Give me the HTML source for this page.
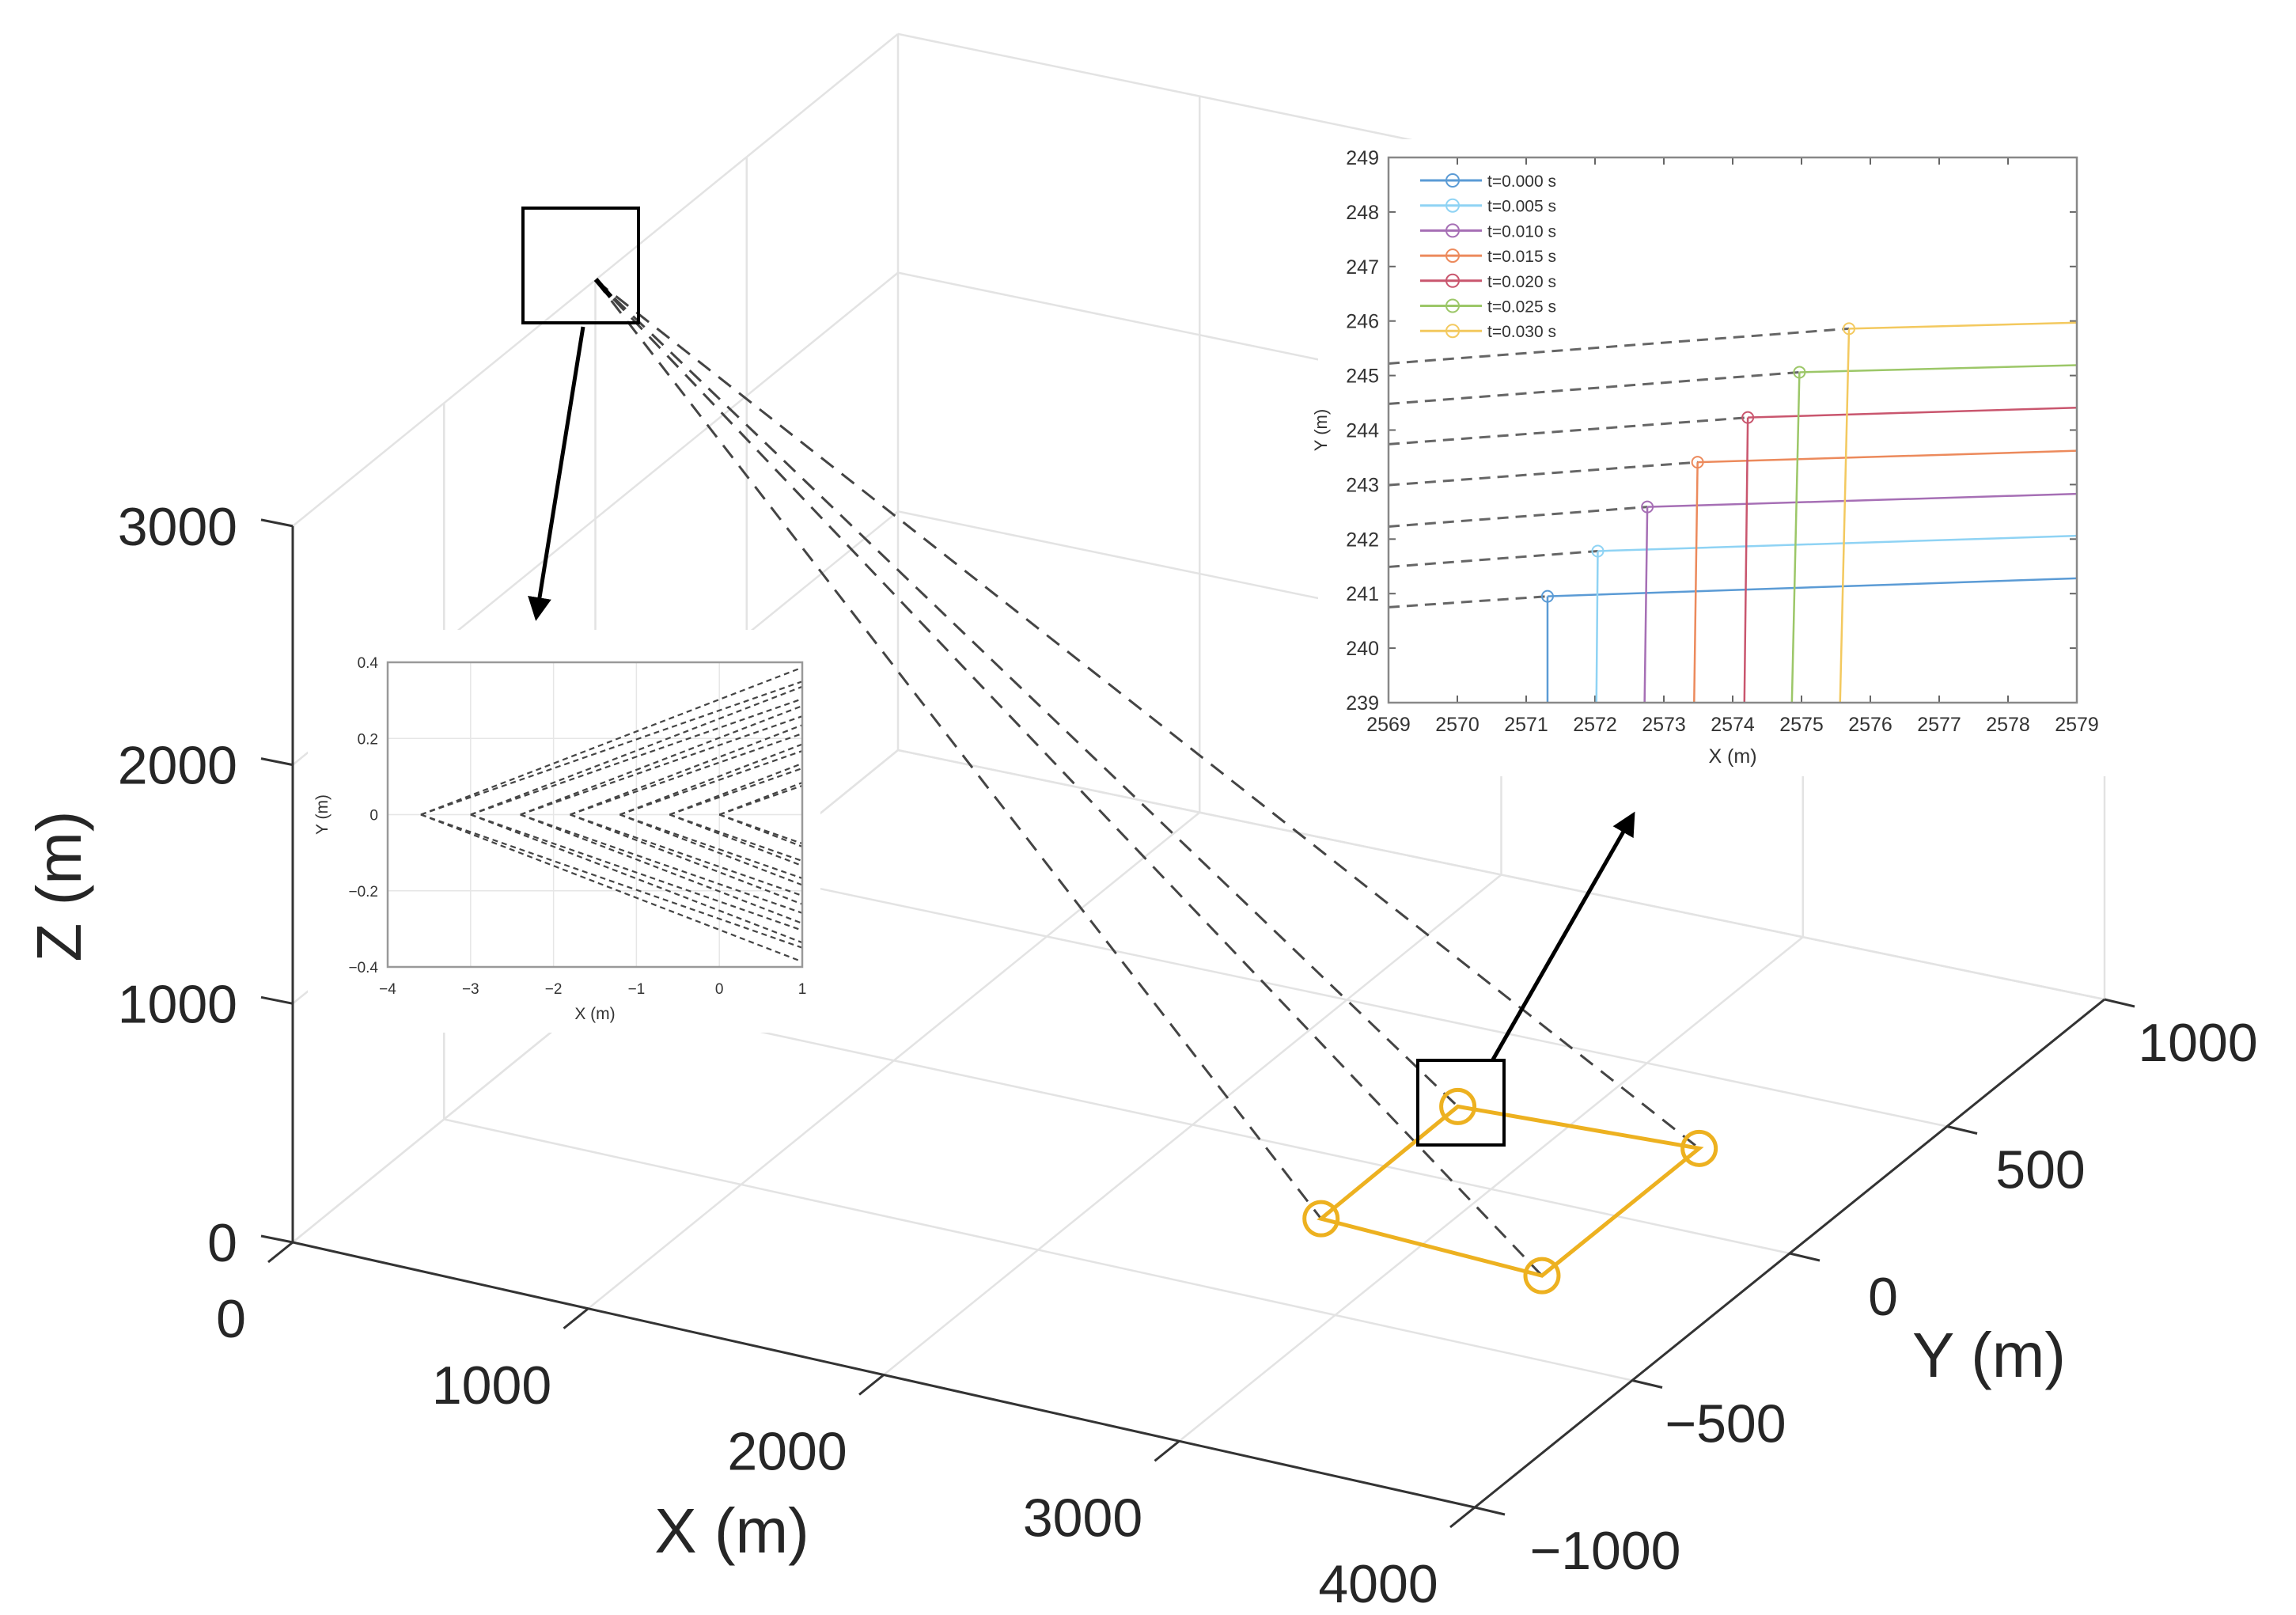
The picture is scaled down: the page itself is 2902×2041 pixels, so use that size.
<!DOCTYPE html>
<html><head><meta charset="utf-8"><style>
html,body{margin:0;padding:0;background:#fff}
svg{display:block;font-family:"Liberation Sans",sans-serif}
</style></head><body>
<svg id="chart" width="2902" height="2041" viewBox="0 0 2902 2041" xmlns="http://www.w3.org/2000/svg">
<g id="grid3d"></g>
<g id="axes3d"></g>
<g id="rays3d"></g>
<g id="square3d"></g>
<g id="insetL"></g>
<g id="insetR"></g>
<g id="annot"></g>
</svg>
<script>
// ---- data ----
const xTicks3d = [0, 1000, 2000, 3000, 4000];
const yTicks3d = [-1000, -500, 0, 500, 1000];
const zTicks3d = [0, 1000, 2000, 3000];
const sourcePoint = [0, 0, 3000];
const squareX = [2642, 3417, 3418, 2647];
const squareY = [237, 267, -236, -208];
const squareZ = [0, 0, 0, 0];

const insetRXTicks = [2569,2570,2571,2572,2573,2574,2575,2576,2577,2578,2579];
const insetRYTicks = [239,240,241,242,243,244,245,246,247,248,249];
const seriesLabels = ['t=0.000 s','t=0.005 s','t=0.010 s','t=0.015 s','t=0.020 s','t=0.025 s','t=0.030 s'];
const markerX = [2571.31, 2572.04, 2572.76, 2573.49, 2574.22, 2574.97, 2575.69];
const markerY = [240.95, 241.78, 242.59, 243.41, 244.23, 245.06, 245.86];
const leftEdgeY = [240.75, 241.49, 242.23, 242.99, 243.74, 244.48, 245.22];
const rightEdgeY = [241.28, 242.06, 242.83, 243.62, 244.41, 245.19, 245.97];
const bottomX = [2571.31, 2572.02, 2572.72, 2573.44, 2574.17, 2574.86, 2575.56];

const insetLXTicks = [-4,-3,-2,-1,0,1];
const insetLYTicks = [-0.4,-0.2,0,0.2,0.4];
const apexX = [-3.6, -3.0, -2.4, -1.8, -1.2, -0.6, 0.0];
const raySlopes = [0.084, 0.076];

// ---- helpers ----
const NS = 'http://www.w3.org/2000/svg';
function mk(parent, tag, attrs, txt){
  const e = document.createElementNS(NS, tag);
  for (const k in attrs) e.setAttribute(k, attrs[k]);
  if (txt !== undefined) e.textContent = txt;
  parent.appendChild(e); return e;
}
const fmt = v => (v < 0 ? '\u2212' + Math.abs(v) : '' + v);

// 3D projection (bilinear floor + vertical z)
const A=[370,1570], B=[1864,1905], C=[2660,1263], D=[1135,948], ZS=0.3017;
function proj(x,y,z){
  const u=x/4000, v=(y+1000)/2000;
  const px=A[0]+u*(B[0]-A[0])+v*(D[0]-A[0])+u*v*(C[0]-B[0]-D[0]+A[0]);
  const py=A[1]+u*(B[1]-A[1])+v*(D[1]-A[1])+u*v*(C[1]-B[1]-D[1]+A[1]);
  return [px, py - z*ZS];
}
function line3(g, p, q, attrs){
  const a=proj(...p), b=proj(...q);
  return mk(g,'line',Object.assign({x1:a[0],y1:a[1],x2:b[0],y2:b[1]},attrs));
}

// ---- grid ----
const gG = document.getElementById('grid3d');
const gs = {stroke:'#e3e3e3','stroke-width':2.5};
xTicks3d.forEach(x=>{ const l=line3(gG,[x,-1000,0],[x,1000,0],gs);
   
  if(x>0){ const w=line3(gG,[x,1000,0],[x,1000,3000],gs);
    }});
yTicks3d.forEach(y=>{ const l=line3(gG,[0,y,0],[4000,y,0],gs);
   
  if(y>-1000){ const w=line3(gG,[0,y,0],[0,y,3000],gs);
    }});
zTicks3d.forEach(z=>{ const l=line3(gG,[0,-1000,z],[0,1000,z],gs);
   
  const w=line3(gG,[0,1000,z],[4000,1000,z],gs);
    });

// ---- axes ----
const gA = document.getElementById('axes3d');
const as = {stroke:'#333','stroke-width':3};
let e;
e=line3(gA,[0,-1000,0],[0,-1000,3000],as);  
e=line3(gA,[0,-1000,0],[4000,-1000,0],as);  
e=line3(gA,[4000,-1000,0],[4000,1000,0],as);  
const lab = {fill:'#262626','font-size':68};
zTicks3d.forEach(z=>{ const p=proj(0,-1000,z);
  e=mk(gA,'line',{x1:p[0],y1:p[1],x2:p[0]-40,y2:p[1]-8,stroke:'#333','stroke-width':3});
   
  e=mk(gA,'text',Object.assign({x:p[0]-70,y:p[1]+24,'text-anchor':'end'},lab),fmt(z));
    });
xTicks3d.forEach(x=>{ const p=proj(x,-1000,0);
  e=mk(gA,'line',{x1:p[0],y1:p[1],x2:p[0]-31,y2:p[1]+25,stroke:'#333','stroke-width':3});
   
  e=mk(gA,'text',Object.assign({x:p[0]-(x===0?78:122),y:p[1]+120,'text-anchor':'middle'},lab),fmt(x));
    });
yTicks3d.forEach(y=>{ const p=proj(4000,y,0);
  e=mk(gA,'line',{x1:p[0],y1:p[1],x2:p[0]+38,y2:p[1]+9,stroke:'#333','stroke-width':3});
   
  e=mk(gA,'text',Object.assign({x:p[0]+(y===-1000?165:118),y:p[1]+78,'text-anchor':'middle'},lab),fmt(y));
    });
e=mk(gA,'text',{x:925,y:1962,'text-anchor':'middle',fill:'#262626','font-size':80},'X (m)');
 
e=mk(gA,'text',{x:2514,y:1740,'text-anchor':'middle',fill:'#262626','font-size':80},'Y (m)');
 
e=mk(gA,'text',{x:0,y:0,'text-anchor':'middle',fill:'#262626','font-size':80,transform:'translate(102,1120) rotate(-90)'},'Z (m)');
 

// ---- rays & square ----
const gR = document.getElementById('rays3d');
squareX.forEach((x,i)=>{ e=line3(gR,sourcePoint,[x,squareY[i],squareZ[i]],{stroke:'#444','stroke-width':3,'stroke-dasharray':'20 13'});
    });
const gS = document.getElementById('square3d');
const sqPts = squareX.map((x,i)=>proj(x,squareY[i],squareZ[i]));
e=mk(gS,'polygon',{points:sqPts.map(p=>p.join(',')).join(' '),fill:'none',stroke:'#EDB120','stroke-width':5});
 
sqPts.forEach(p=>{ e=mk(gS,'circle',{cx:p[0],cy:p[1],r:21,fill:'none',stroke:'#EDB120','stroke-width':5});
    });

// ---- left inset ----
const gL = document.getElementById('insetL');
const L={x0:490,x1:1014,y0:1222,y1:837};
const lx=v=>L.x0+(v+4)/5*(L.x1-L.x0), ly=v=>L.y0-(v+0.4)/0.8*(L.y0-L.y1);
e=mk(gL,'rect',{x:389,y:796,width:648,height:509,fill:'#fff'});  
insetLXTicks.forEach(v=>{ e=mk(gL,'line',{x1:lx(v),y1:L.y0,x2:lx(v),y2:L.y1,stroke:'#e6e6e6','stroke-width':1.5});  
  e=mk(gL,'text',{x:lx(v),y:L.y0+34,'text-anchor':'middle','font-size':19,fill:'#333'},fmt(v));   });
insetLYTicks.forEach(v=>{ e=mk(gL,'line',{x1:L.x0,y1:ly(v),x2:L.x1,y2:ly(v),stroke:'#e6e6e6','stroke-width':1.5});  
  e=mk(gL,'text',{x:L.x0-12,y:ly(v)+7,'text-anchor':'end','font-size':19,fill:'#333'},fmt(v));   });
apexX.forEach(a=>{ raySlopes.forEach(s=>{ [1,-1].forEach(sg=>{
  e=mk(gL,'line',{x1:lx(a),y1:ly(0),x2:lx(1),y2:ly(sg*s*(1-a)),stroke:'#444','stroke-width':2.2,'stroke-dasharray':'7 5'});
    }); }); });
e=mk(gL,'rect',{x:L.x0,y:L.y1,width:L.x1-L.x0,height:L.y0-L.y1,fill:'none',stroke:'#999','stroke-width':2.5});  
e=mk(gL,'text',{x:(L.x0+L.x1)/2,y:L.y0+66,'text-anchor':'middle','font-size':21,fill:'#333'},'X (m)');  
e=mk(gL,'text',{x:0,y:0,'text-anchor':'middle','font-size':21,fill:'#333',transform:`translate(414,${ly(0)}) rotate(-90)`},'Y (m)');  

// ---- right inset ----
const gI = document.getElementById('insetR');
const R={x0:1755,x1:2625,y0:888,y1:199};
const rx=v=>R.x0+(v-2569)/10*(R.x1-R.x0), ry=v=>R.y0-(v-239)/10*(R.y0-R.y1);
const colors=['#5b9bd5','#8fd3f4','#a66fb5','#ec8a5c','#c9566e','#9cc768','#f3c95f'];
e=mk(gI,'rect',{x:1666,y:176,width:999,height:805,fill:'#fff'});  
insetRXTicks.forEach(v=>{ e=mk(gI,'line',{x1:rx(v),y1:R.y0,x2:rx(v),y2:R.y0-9,stroke:'#666','stroke-width':2});  
  e=mk(gI,'line',{x1:rx(v),y1:R.y1,x2:rx(v),y2:R.y1+9,stroke:'#666','stroke-width':2});  
  e=mk(gI,'text',{x:rx(v),y:R.y0+36,'text-anchor':'middle','font-size':25,fill:'#333'},''+v);   });
insetRYTicks.forEach(v=>{ e=mk(gI,'line',{x1:R.x0,y1:ry(v),x2:R.x0+9,y2:ry(v),stroke:'#666','stroke-width':2});  
  e=mk(gI,'line',{x1:R.x1,y1:ry(v),x2:R.x1-9,y2:ry(v),stroke:'#666','stroke-width':2});  
  e=mk(gI,'text',{x:R.x0-12,y:ry(v)+9,'text-anchor':'end','font-size':25,fill:'#333'},''+v);   });
markerX.forEach((mx,i)=>{
  e=mk(gI,'line',{x1:rx(2569),y1:ry(leftEdgeY[i]),x2:rx(mx),y2:ry(markerY[i]),stroke:'#666','stroke-width':3,'stroke-dasharray':'14 9'});  
  e=mk(gI,'polyline',{points:`${rx(mx)},${ry(markerY[i])} ${rx(2579)},${ry(rightEdgeY[i])}`,fill:'none',stroke:colors[i],'stroke-width':2.5});  
  e=mk(gI,'line',{x1:rx(mx),y1:ry(markerY[i]),x2:rx(bottomX[i]),y2:R.y0,stroke:colors[i],'stroke-width':2.5});  
  e=mk(gI,'circle',{cx:rx(mx),cy:ry(markerY[i]),r:7,fill:'none',stroke:colors[i],'stroke-width':2});  
});
seriesLabels.forEach((t,i)=>{ const yy=228+i*31.7;
  e=mk(gI,'line',{x1:1795,y1:yy,x2:1873,y2:yy,stroke:colors[i],'stroke-width':3});  
  e=mk(gI,'circle',{cx:1836,cy:yy,r:8,fill:'none',stroke:colors[i],'stroke-width':2});  
  e=mk(gI,'text',{x:1880,y:yy+8,'font-size':21,fill:'#333'},t);   });
e=mk(gI,'rect',{x:R.x0,y:R.y1,width:R.x1-R.x0,height:R.y0-R.y1,fill:'none',stroke:'#888','stroke-width':2.5});  
e=mk(gI,'text',{x:(R.x0+R.x1)/2,y:R.y0+76,'text-anchor':'middle','font-size':25,fill:'#333'},'X (m)');  
e=mk(gI,'text',{x:0,y:0,'text-anchor':'middle','font-size':22,fill:'#333',transform:`translate(1677,${ry(244)}) rotate(-90)`},'Y (m)');  

// ---- annotations ----
const gN = document.getElementById('annot');
mk(gN,'defs',{}).innerHTML='<marker id="ah" markerWidth="6" markerHeight="6" refX="5" refY="3" orient="auto" markerUnits="strokeWidth"><path d="M0,0 L6,3 L0,6 z" fill="#000"/></marker>';
e=mk(gN,'rect',{x:661,y:263,width:146,height:145,fill:'none',stroke:'#000','stroke-width':4});  
e=mk(gN,'line',{x1:737,y1:413,x2:678,y2:780,stroke:'#000','stroke-width':5,'marker-end':'url(#ah)'});  
e=mk(gN,'line',{x1:753,y1:353,x2:772,y2:375,stroke:'#000','stroke-width':6});  
e=mk(gN,'rect',{x:1792,y:1340,width:109,height:107,fill:'none',stroke:'#000','stroke-width':4});  
e=mk(gN,'line',{x1:1887,y1:1339,x2:2064,y2:1030,stroke:'#000','stroke-width':5,'marker-end':'url(#ah)'});  
</script>
</body></html>
